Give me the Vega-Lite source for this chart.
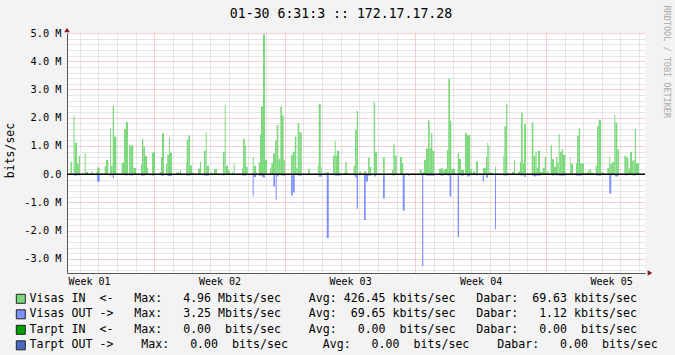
{
"$schema": "https://vega.github.io/schema/vega-lite/v6.json",
"width": 578, "height": 240,
"autosize": "none",
"padding": {"left": 67, "top": 33, "right": 30, "bottom": 82},
"background": "#f3f3f3",
"config": {"view": {"fill": "#ffffff", "stroke": null}, "font": "DejaVu Sans Mono"},
"title": {"text": "01-30 6:31:3 :: 172.17.17.28", "font": "DejaVu Sans Mono", "fontSize": 13.2, "fontWeight": "normal", "color": "#000000", "anchor": "middle", "frame": "group", "dx": -15, "offset": -16},
"datasets": {
"visasIn": [
{"t0":4.5,"t1":6.4,"v":0.44},{"t0":8.4,"t1":9.7,"v":2.07},{"t0":9.7,"t1":12.9,"v":1.11},{"t0":12.9,"t1":15.1,"v":0.39},{"t0":15.1,"t1":16.7,"v":0.65},{"t0":18.7,"t1":20,"v":0.06},{"t0":22.8,"t1":24.1,"v":0.75},{"t0":24.1,"t1":27,"v":0.08},{"t0":31.3,"t1":33.1,"v":0.1},{"t0":37.3,"t1":38.6,"v":0.06},{"t0":38.6,"t1":42.1,"v":0.24},{"t0":48.5,"t1":50.2,"v":0.27},{"t0":50.2,"t1":53.2,"v":0.5},{"t0":55.4,"t1":56.6,"v":1.64},{"t0":56.6,"t1":58.8,"v":0.3},{"t0":58.8,"t1":60.5,"v":2.42},{"t0":60.5,"t1":63.5,"v":1.33},{"t0":70.4,"t1":73.4,"v":0.4},{"t0":73.4,"t1":75.9,"v":1.6},{"t0":75.9,"t1":78.5,"v":1.85},{"t0":79.8,"t1":82,"v":1.03},{"t0":82,"t1":85.3,"v":1.02},{"t0":85.3,"t1":88.8,"v":0.22},{"t0":95.3,"t1":96.5,"v":0.34},{"t0":96.5,"t1":98.2,"v":1.25},{"t0":98.2,"t1":100.4,"v":0.98},{"t0":100.4,"t1":103,"v":0.65},{"t0":103,"t1":104.3,"v":0.24},{"t0":109.4,"t1":110.7,"v":0.76},{"t0":110.7,"t1":113.3,"v":0.79},{"t0":119.3,"t1":121,"v":0.08},{"t0":121,"t1":122.3,"v":0.6},{"t0":122.3,"t1":124.9,"v":1.45},{"t0":127.4,"t1":129.1,"v":0.37},{"t0":129.1,"t1":131.3,"v":0.69},{"t0":131.3,"t1":132.6,"v":1.29},{"t0":132.6,"t1":135.2,"v":0.76},{"t0":140.3,"t1":145.5,"v":0.06},{"t0":145.5,"t1":146.7,"v":0.15},{"t0":153.2,"t1":154.1,"v":0.38},{"t0":154.1,"t1":156.1,"v":1.22},{"t0":156.1,"t1":158.3,"v":1.38},{"t0":158.3,"t1":160.9,"v":0.31},{"t0":160.9,"t1":163.5,"v":0.06},{"t0":168.6,"t1":171.2,"v":0.2},{"t0":171.2,"t1":172.5,"v":0.44},{"t0":176.3,"t1":178.5,"v":0.83},{"t0":178.5,"t1":179.8,"v":1.47},{"t0":179.8,"t1":182.8,"v":0.3},{"t0":185.4,"t1":186.6,"v":0.08},{"t0":189.2,"t1":193.1,"v":0.18},{"t0":200.8,"t1":203,"v":0.79},{"t0":203,"t1":204.3,"v":2.46},{"t0":204.3,"t1":207.2,"v":0.3},{"t0":207.2,"t1":209.8,"v":0.13},{"t0":212.4,"t1":213.7,"v":0.08},{"t0":214.6,"t1":215.9,"v":0.38},{"t0":225.3,"t1":226.5,"v":0.2},{"t0":226.5,"t1":228.7,"v":1.26},{"t0":228.7,"t1":230.4,"v":1.02},{"t0":230.4,"t1":232.6,"v":0.26},{"t0":239,"t1":240.3,"v":0.61},{"t0":240.3,"t1":243.3,"v":0.3},{"t0":243.3,"t1":244.6,"v":0.06},{"t0":246.8,"t1":248.4,"v":0.41},{"t0":248.4,"t1":249.7,"v":1.41},{"t0":249.7,"t1":252.3,"v":2.4},{"t0":252.3,"t1":254.9,"v":4.96},{"t0":254.9,"t1":257.5,"v":0.5},{"t0":261.3,"t1":263,"v":0.21},{"t0":263,"t1":265.2,"v":0.39},{"t0":265.2,"t1":267.7,"v":0.74},{"t0":267.7,"t1":269.9,"v":1.19},{"t0":269.9,"t1":272,"v":1.74},{"t0":272,"t1":274.6,"v":0.54},{"t0":274.6,"t1":276.8,"v":2.39},{"t0":276.8,"t1":278.9,"v":2.09},{"t0":278.9,"t1":280.6,"v":0.5},{"t0":288.3,"t1":290.5,"v":0.67},{"t0":290.5,"t1":293.1,"v":0.79},{"t0":293.1,"t1":295.2,"v":1.33},{"t0":295.2,"t1":297,"v":0.21},{"t0":297,"t1":299,"v":1.81},{"t0":299,"t1":302.1,"v":1.48},{"t0":310.2,"t1":312.4,"v":0.19},{"t0":322.7,"t1":324,"v":0.3},{"t0":324,"t1":326.6,"v":2.49},{"t0":326.6,"t1":327.8,"v":0.26},{"t0":331.2,"t1":333.4,"v":0.06},{"t0":334.3,"t1":337.3,"v":0.08},{"t0":342.4,"t1":344.6,"v":0.66},{"t0":344.6,"t1":345.9,"v":1.18},{"t0":345.9,"t1":347.5,"v":0.66},{"t0":347.5,"t1":350.5,"v":0.83},{"t0":350.5,"t1":351.8,"v":0.06},{"t0":356.2,"t1":358.2,"v":0.06},{"t0":358.2,"t1":360,"v":0.43},{"t0":360,"t1":361.7,"v":0.06},{"t0":369,"t1":370.7,"v":0.3},{"t0":370.7,"t1":372.9,"v":1.57},{"t0":372.9,"t1":374.6,"v":2.25},{"t0":376.2,"t1":378.4,"v":0.1},{"t0":382.3,"t1":385.3,"v":0.1},{"t0":387.5,"t1":389.6,"v":0.59},{"t0":389.6,"t1":391.7,"v":0.26},{"t0":394.8,"t1":396.5,"v":2.54},{"t0":396.5,"t1":399.1,"v":0.79},{"t0":406.8,"t1":409,"v":0.61},{"t0":418.3,"t1":420,"v":0.15},{"t0":420,"t1":421.8,"v":1.06},{"t0":421.8,"t1":424.4,"v":0.66},{"t0":428.6,"t1":431.2,"v":0.61},{"t0":431.2,"t1":432.9,"v":0.39},{"t0":454,"t1":456.6,"v":0.15},{"t0":456.6,"t1":459.5,"v":0.06},{"t0":459.5,"t1":462.1,"v":0.5},{"t0":462.1,"t1":464.7,"v":0.91},{"t0":464.7,"t1":466.9,"v":1.9},{"t0":466.9,"t1":468.5,"v":0.93},{"t0":468.5,"t1":470.2,"v":1.45},{"t0":470.2,"t1":472.8,"v":0.83},{"t0":478.8,"t1":481.4,"v":0.19},{"t0":481.4,"t1":483.6,"v":0.22},{"t0":483.6,"t1":486.2,"v":0.15},{"t0":486.2,"t1":489.1,"v":0.19},{"t0":489.1,"t1":490.8,"v":0.86},{"t0":490.8,"t1":493,"v":3.38},{"t0":493,"t1":494.7,"v":1.89},{"t0":494.7,"t1":499.4,"v":0.19},{"t0":502.9,"t1":504.6,"v":0.76},{"t0":504.6,"t1":507.2,"v":0.54},{"t0":507.2,"t1":511,"v":0.15},{"t0":512.3,"t1":514.9,"v":1.45},{"t0":514.9,"t1":519.1,"v":1.38},{"t0":519.1,"t1":521.3,"v":0.19},{"t0":522.6,"t1":525.2,"v":0.1},{"t0":526.5,"t1":529,"v":0.46},{"t0":535.5,"t1":539.3,"v":0.22},{"t0":539.3,"t1":541,"v":0.61},{"t0":541,"t1":542.3,"v":1.11},{"t0":542.3,"t1":543.6,"v":1.0},{"t0":543.6,"t1":548,"v":0.06},{"t0":550.9,"t1":552.2,"v":0.26},{"t0":561.6,"t1":563,"v":0.65},{"t0":563,"t1":565.2,"v":1.7},{"t0":565.2,"t1":566.8,"v":2.49},{"t0":566.8,"t1":568.1,"v":0.06},{"t0":572.8,"t1":575.4,"v":0.08},{"t0":575.4,"t1":576.7,"v":0.52},{"t0":580.5,"t1":583.1,"v":0.1},{"t0":583.1,"t1":584.4,"v":0.44},{"t0":584.4,"t1":586.6,"v":2.17},{"t0":586.6,"t1":588.3,"v":0.39},{"t0":588.3,"t1":590.8,"v":1.78},{"t0":598.2,"t1":600.3,"v":1.83},{"t0":600.3,"t1":602.9,"v":0.65},{"t0":602.9,"t1":604.6,"v":0.8},{"t0":604.6,"t1":606.3,"v":0.22},{"t0":606.3,"t1":608.9,"v":0.83},{"t0":608.9,"t1":612.3,"v":0.08},{"t0":612.3,"t1":614.9,"v":0.22},{"t0":614.9,"t1":616.6,"v":0.61},{"t0":616.6,"t1":618.3,"v":0.06},{"t0":618.3,"t1":620.1,"v":0.1},{"t0":622.6,"t1":624.3,"v":1.03},{"t0":624.3,"t1":626.9,"v":0.53},{"t0":626.9,"t1":629.4,"v":0.26},{"t0":629.4,"t1":631.1,"v":0.61},{"t0":631.1,"t1":632.9,"v":0.41},{"t0":632.9,"t1":634.2,"v":1.42},{"t0":634.2,"t1":636.8,"v":0.79},{"t0":636.8,"t1":638.4,"v":0.89},{"t0":638.4,"t1":641.4,"v":0.69},{"t0":641.4,"t1":642.7,"v":0.08},{"t0":647.5,"t1":648.4,"v":0.61},{"t0":648.4,"t1":651.3,"v":0.37},{"t0":655.2,"t1":656.5,"v":0.39},{"t0":656.5,"t1":658.7,"v":1.36},{"t0":658.7,"t1":660.4,"v":1.63},{"t0":660.4,"t1":662.5,"v":0.39},{"t0":662.5,"t1":665.5,"v":0.38},{"t0":666.4,"t1":669,"v":0.06},{"t0":670.2,"t1":672.7,"v":0.1},{"t0":672.7,"t1":674.5,"v":0.18},{"t0":674.5,"t1":677.5,"v":0.06},{"t0":680.5,"t1":682.2,"v":0.3},{"t0":682.2,"t1":684.4,"v":1.7},{"t0":684.4,"t1":687.4,"v":1.93},{"t0":687.4,"t1":691.3,"v":0.06},{"t0":695.5,"t1":698,"v":0.22},{"t0":698,"t1":699.3,"v":0.59},{"t0":699.3,"t1":701.9,"v":0.37},{"t0":701.9,"t1":704.5,"v":0.44},{"t0":704.5,"t1":705.8,"v":2.1},{"t0":705.8,"t1":708.4,"v":1.82},{"t0":708.4,"t1":710.6,"v":0.87},{"t0":717.4,"t1":720,"v":0.65},{"t0":720,"t1":722.6,"v":0.59},{"t0":722.6,"t1":724.7,"v":0.2},{"t0":724.7,"t1":727.3,"v":0.79},{"t0":727.3,"t1":729,"v":0.48},{"t0":729,"t1":730.9,"v":0.48},{"t0":730.9,"t1":732.4,"v":1.6},{"t0":732.4,"t1":736.3,"v":0.39}
],
"visasOut": [
{"t0":9,"t1":12.9,"v":-0.05},{"t0":15.1,"t1":16.7,"v":-0.05},{"t0":38.6,"t1":42.1,"v":-0.27},{"t0":55.4,"t1":56.6,"v":-0.08},{"t0":58.8,"t1":60.5,"v":-0.13},{"t0":74.7,"t1":77.6,"v":-0.05},{"t0":81.1,"t1":84.6,"v":-0.05},{"t0":95.3,"t1":100.4,"v":-0.05},{"t0":109,"t1":112,"v":-0.05},{"t0":121,"t1":124.9,"v":-0.05},{"t0":129.1,"t1":135.2,"v":-0.06},{"t0":154.1,"t1":158.3,"v":-0.05},{"t0":176.3,"t1":182.8,"v":-0.05},{"t0":200.8,"t1":202.6,"v":-0.05},{"t0":225.7,"t1":230.4,"v":-0.05},{"t0":239,"t1":240.3,"v":-0.79},{"t0":240.3,"t1":243.3,"v":-0.1},{"t0":246.8,"t1":249.7,"v":-0.05},{"t0":250.3,"t1":252.3,"v":-0.08},{"t0":252.3,"t1":254.9,"v":-0.12},{"t0":265.6,"t1":267.7,"v":-0.44},{"t0":268.6,"t1":269.9,"v":-0.91},{"t0":269.9,"t1":272.5,"v":-0.08},{"t0":275.8,"t1":280.6,"v":-0.05},{"t0":288.3,"t1":290.5,"v":-0.76},{"t0":290.5,"t1":293.1,"v":-0.65},{"t0":297,"t1":302.1,"v":-0.05},{"t0":324,"t1":327.8,"v":-0.09},{"t0":334.3,"t1":336.9,"v":-2.26},{"t0":344.6,"t1":351.5,"v":-0.05},{"t0":369.4,"t1":370.7,"v":-0.05},{"t0":370.7,"t1":372.9,"v":-0.12},{"t0":372.9,"t1":374.6,"v":-1.22},{"t0":382.3,"t1":384.5,"v":-1.62},{"t0":384.5,"t1":387.5,"v":-0.26},{"t0":387.5,"t1":391.7,"v":-0.05},{"t0":395.4,"t1":398,"v":-0.08},{"t0":406.8,"t1":409,"v":-0.86},{"t0":419.2,"t1":421.8,"v":-0.05},{"t0":432.1,"t1":434.7,"v":-1.29},{"t0":438.9,"t1":440.6,"v":-0.05},{"t0":457,"t1":458.6,"v":-3.25},{"t0":462.1,"t1":473.3,"v":-0.05},{"t0":480.5,"t1":484.9,"v":-0.05},{"t0":489.9,"t1":492,"v":-0.05},{"t0":492.5,"t1":494.7,"v":-0.79},{"t0":502.9,"t1":504.6,"v":-2.23},{"t0":506.8,"t1":511,"v":-0.05},{"t0":514.9,"t1":518.8,"v":-0.08},{"t0":526.5,"t1":529,"v":-0.05},{"t0":535.1,"t1":536.8,"v":-0.26},{"t0":539.3,"t1":541.9,"v":-0.12},{"t0":550.9,"t1":552.2,"v":-1.94},{"t0":561.6,"t1":566.8,"v":-0.05},{"t0":584,"t1":586.6,"v":-0.05},{"t0":588.3,"t1":590.8,"v":-0.09},{"t0":598.6,"t1":601.2,"v":-0.05},{"t0":601.2,"t1":603.7,"v":-0.08},{"t0":603.7,"t1":609.8,"v":-0.05},{"t0":624.3,"t1":626.9,"v":-0.05},{"t0":629.4,"t1":631.1,"v":-0.05},{"t0":632.9,"t1":641.4,"v":-0.05},{"t0":655.6,"t1":662.5,"v":-0.05},{"t0":681.4,"t1":687.4,"v":-0.05},{"t0":698,"t1":700.6,"v":-0.69},{"t0":705.3,"t1":709.5,"v":-0.08},{"t0":718.7,"t1":720.9,"v":-0.05},{"t0":728.4,"t1":731.7,"v":-0.05}
]
},
"resolve": {"axis": {"x": "independent", "y": "independent"}},
"layer": [
{
"data": {"name": "visasIn"},
"mark": {"type": "rect"},
"encoding": {
"x": {"field": "t0", "type": "quantitative", "scale": {"domain": [0, 744], "nice": false, "zero": false},
 "axis": {"orient": "bottom", "values": [16.4,40.4,64.4,88.4,112.4,136.4,160.4,184.4,208.4,232.4,256.4,280.4,304.4,328.4,352.4,376.4,400.4,424.4,448.4,472.4,496.4,520.4,544.4,568.4,592.4,616.4,640.4,664.4,688.4,712.4,736.4,28.4,196.4,364.4,532.4,700.4],
  "labelExpr": "datum.value == 28.4 ? 'Week 01' : datum.value == 196.4 ? 'Week 02' : datum.value == 364.4 ? 'Week 03' : datum.value == 532.4 ? 'Week 04' : datum.value == 700.4 ? 'Week 05' : ''",
  "ticks": false, "domain": true, "domainColor": "#555555", "domainWidth": 1,
  "grid": true, "gridDash": [1, 1], "gridWidth": 1,
  "gridColor": {"condition": {"test": "indexof([112.4,280.4,448.4,616.4], datum.value) >= 0", "value": "#e8a0a0"}, "value": "#cccccc"},
  "gridOpacity": {"condition": {"test": "indexof([28.4,196.4,364.4,532.4,700.4], datum.value) >= 0", "value": 0}, "value": 1},
  "labelFont": "DejaVu Sans Mono", "labelFontSize": 10, "labelColor": "#000000", "labelPadding": 3,
  "labelOverlap": false, "labelBound": false, "labelFlush": false, "title": null}},
"x2": {"field": "t1"},
"y": {"field": "v", "type": "quantitative", "scale": {"domain": [-3.5, 5], "nice": false, "zero": false},
 "axis": {"orient": "left", "values": [-3.4,-3.2,-3,-2.8,-2.6,-2.4,-2.2,-2,-1.8,-1.6,-1.4,-1.2,-1,-0.8,-0.6,-0.4,-0.2,0,0.2,0.4,0.6,0.8,1,1.2,1.4,1.6,1.8,2,2.2,2.4,2.6,2.8,3,3.2,3.4,3.6,3.8,4,4.2,4.4,4.6,4.8,5],
  "labelExpr": "abs(datum.value - round(datum.value)) > 0.001 ? '' : (abs(datum.value) < 0.001 ? '0.0' : (datum.value < 0 ? '-' : '') + format(abs(datum.value), '.1f') + ' M')",
  "ticks": false, "domain": true, "domainColor": "#555555", "domainWidth": 1,
  "grid": true, "gridDash": [1, 1], "gridWidth": 1,
  "gridColor": {"condition": {"test": "abs(datum.value - round(datum.value)) < 0.001", "value": "#e8a0a0"}, "value": "#cccccc"},
  "labelFont": "DejaVu Sans Mono", "labelFontSize": 10.3, "labelColor": "#000000", "labelPadding": 6,
  "labelOverlap": false, "labelBound": false, "labelFlush": false,
  "title": "bits/sec", "titleFont": "DejaVu Sans Mono", "titleFontSize": 11.5, "titleFontWeight": "normal", "titleColor": "#000000",
  "titleAngle": -90, "titleX": -57, "titleY": 117, "titleAlign": "center", "titleBaseline": "middle"}},
"y2": {"datum": 0},
"color": {"datum": "Visas IN", "type": "nominal",
 "scale": {"domain": ["Visas IN", "Visas OUT", "Tarpt IN", "Tarpt OUT"], "range": ["#7ed97e", "#7f8fff", "#00a000", "#4a68c8"]},
 "legend": {"orient": "none", "legendX": -52, "legendY": 260, "direction": "vertical", "title": null,
  "symbolType": "square", "symbolSize": 81, "symbolStrokeColor": "#222222", "symbolStrokeWidth": 1, "symbolOpacity": 1,
  "labelFont": "DejaVu Sans Mono", "labelFontSize": 11.6, "labelColor": "#000000", "labelOffset": 3, "labelLimit": 1000,
  "rowPadding": 1.5, "padding": 0,
  "labelExpr": "datum.label == 'Visas IN' ? 'Visas\u00a0IN\u00a0\u00a0<-\u00a0\u00a0\u00a0Max:\u00a0\u00a0\u00a04.96\u00a0Mbits/sec\u00a0\u00a0\u00a0\u00a0Avg:\u00a0426.45\u00a0kbits/sec\u00a0\u00a0\u00a0Dabar:\u00a0\u00a069.63\u00a0kbits/sec' : datum.label == 'Visas OUT' ? 'Visas\u00a0OUT\u00a0->\u00a0\u00a0\u00a0Max:\u00a0\u00a0\u00a03.25\u00a0Mbits/sec\u00a0\u00a0\u00a0\u00a0Avg:\u00a0\u00a069.65\u00a0kbits/sec\u00a0\u00a0\u00a0Dabar:\u00a0\u00a0\u00a01.12\u00a0kbits/sec' : datum.label == 'Tarpt IN' ? 'Tarpt\u00a0IN\u00a0\u00a0<-\u00a0\u00a0\u00a0Max:\u00a0\u00a0\u00a00.00\u00a0\u00a0bits/sec\u00a0\u00a0\u00a0\u00a0Avg:\u00a0\u00a0\u00a00.00\u00a0\u00a0bits/sec\u00a0\u00a0\u00a0Dabar:\u00a0\u00a0\u00a00.00\u00a0\u00a0bits/sec' : 'Tarpt\u00a0OUT\u00a0->\u00a0\u00a0\u00a0\u00a0Max:\u00a0\u00a0\u00a00.00\u00a0\u00a0bits/sec\u00a0\u00a0\u00a0\u00a0\u00a0Avg:\u00a0\u00a0\u00a00.00\u00a0\u00a0bits/sec\u00a0\u00a0\u00a0\u00a0Dabar:\u00a0\u00a0\u00a00.00\u00a0\u00a0bits/sec'"}}
}
},
{
"data": {"name": "visasOut"},
"mark": {"type": "rect"},
"encoding": {
"x": {"field": "t0", "type": "quantitative", "axis": null},
"x2": {"field": "t1"},
"y": {"field": "v", "type": "quantitative",
 "axis": {"orient": "right", "labels": false, "ticks": false, "domain": false, "grid": false,
  "title": "RRDTOOL / TOBI OETIKER", "titleFont": "DejaVu Sans Mono", "titleFontSize": 8.5, "titleFontWeight": "normal", "titleColor": "#a8a8a8",
  "titleAngle": 90, "titleX": 21, "titleY": -28, "titleAlign": "left", "titleBaseline": "middle"}},
"y2": {"datum": 0},
"color": {"datum": "Visas OUT", "type": "nominal"}
}
},
{
"data": {"values": [{}]},
"mark": {"type": "rule", "color": "#000000", "strokeWidth": 1.5},
"encoding": {"y": {"datum": 0, "type": "quantitative", "axis": null}}
},
{
"data": {"values": [{}]},
"mark": {"type": "point", "shape": "triangle-up", "filled": true, "color": "#8b1a1a", "size": 30, "opacity": 1, "yOffset": -3},
"encoding": {"x": {"datum": 0, "type": "quantitative", "axis": null}, "y": {"datum": 5, "type": "quantitative", "axis": null}}
},
{
"data": {"values": [{}]},
"mark": {"type": "point", "shape": "triangle-right", "filled": true, "color": "#8b1a1a", "size": 30, "opacity": 1, "xOffset": 5},
"encoding": {"x": {"datum": 744, "type": "quantitative", "axis": null}, "y": {"datum": -3.5, "type": "quantitative", "axis": null}}
}
]
}
